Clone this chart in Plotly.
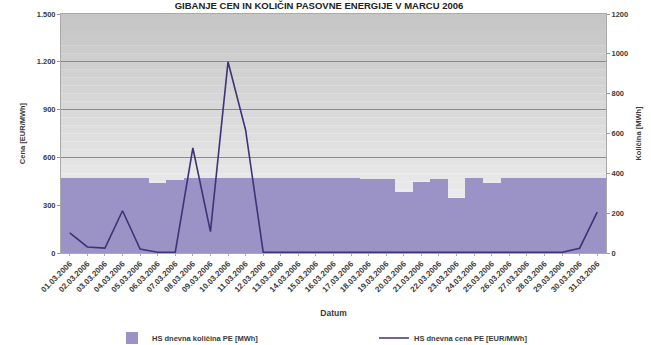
import plotly.graph_objects as go

dates = [f"{d:02d}.03.2006" for d in range(1, 32)]
kolicina = [376, 376, 376, 376, 376, 350, 365, 376, 376, 376,
            376, 376, 376, 376, 376, 376, 376, 374, 372, 308,
            358, 370, 274, 376, 353, 376, 376, 376, 376, 376, 376]
cena = [127, 38, 31, 265, 25, 5, 5, 659, 134, 1200,
        772, 5, 4, 4, 4, 5, 4, 4, 4, 4,
        4, 4, 4, 4, 4, 4, 4, 4, 4, 30, 257]

left_ticks = [0, 300, 600, 900, 1200, 1500]
right_ticks = [0, 200, 400, 600, 800, 1000, 1200]

fig = go.Figure()
fig.add_trace(go.Bar(x=dates, y=kolicina, name="<b>HS dnevna količina PE [MWh]</b>",
                     marker=dict(color="#9b93c6", line=dict(width=0)),
                     yaxis="y", legend="legend"))
fig.add_trace(go.Scatter(x=dates, y=cena, name="<b>HS dnevna cena PE [EUR/MWh]</b>",
                         mode="lines", line=dict(color="#3d3478", width=1.6),
                         yaxis="y2", legend="legend2"))

# gradient background
n = 30
shapes = []
for i in range(n):
    t = i / (n - 1)
    v0, v1 = 0xc6, 0xf6
    v = int(v0 + (v1 - v0) * t)
    shapes.append(dict(type="rect", xref="x domain", yref="y domain",
                       x0=0, x1=1, y0=1 - (i + 1) / n, y1=1 - i / n,
                       fillcolor=f"rgb({v},{v},{v})", line=dict(width=0),
                       layer="below"))

FONT = "Liberation Sans, Arial"
C = "#3a3a3a"
xtickfont = dict(family=FONT, size=8, color=C, weight="bold")
ytickfont = dict(family=FONT, size=7.5, color=C, weight="bold")
legfont = dict(family=FONT, size=7.5, color=C)
fig.update_layout(
    width=651, height=345,
    margin=dict(l=61, r=45, t=14, b=92, autoexpand=False),
    paper_bgcolor="white", plot_bgcolor="rgba(0,0,0,0)",
    separators=",.",
    bargap=0,
    shapes=shapes,
    showlegend=True,
    title=dict(text="<b>GIBANJE CEN IN KOLIČIN PASOVNE ENERGIJE V MARCU 2006</b>",
               x=0.49, xanchor="center", y=1 - 6 / 345, yanchor="middle", yref="container",
               font=dict(family=FONT, size=9.5, color="#222222")),
    xaxis=dict(type="category", tickangle=-45, tickfont=xtickfont, automargin=False,
               showgrid=False, showline=True, linecolor="#aaaaaa", mirror=True,
               ticks="outside", ticklen=2, tickcolor="#aaaaaa",
               title=dict(text="<b>Datum</b>", font=dict(family=FONT, size=8.5, color=C), standoff=16)),
    yaxis=dict(side="right", range=[0, 1200], tickvals=right_ticks, showgrid=False, automargin=False,
               tickfont=ytickfont, ticks="outside", ticklen=3, tickcolor="#999999",
               zeroline=False, showline=True, linecolor="#aaaaaa",
               title=dict(text="<b>Količina [MWh]</b>", font=dict(family=FONT, size=7.5, color=C), standoff=8)),
    yaxis2=dict(side="left", overlaying="y", range=[0, 1500], tickvals=left_ticks, automargin=False,
                tickformat=",", showgrid=True, gridcolor="#8c8c8c", gridwidth=1,
                tickfont=ytickfont, ticks="outside", ticklen=3, tickcolor="#999999",
                zeroline=False, showline=True, linecolor="#aaaaaa",
                title=dict(text="<b>Cena [EUR/MWh]</b>", font=dict(family=FONT, size=7.5, color=C), standoff=10)),
    legend=dict(orientation="h", x=112 / 651, xanchor="left", y=1 - 338 / 345, yanchor="middle",
                xref="container", yref="container", font=legfont, bgcolor="rgba(0,0,0,0)",
                itemwidth=30),
    legend2=dict(orientation="h", x=374 / 651, xanchor="left", y=1 - 338 / 345, yanchor="middle",
                 xref="container", yref="container", font=legfont, bgcolor="rgba(0,0,0,0)",
                 itemwidth=30),
)

fig.write_html("out.html")
